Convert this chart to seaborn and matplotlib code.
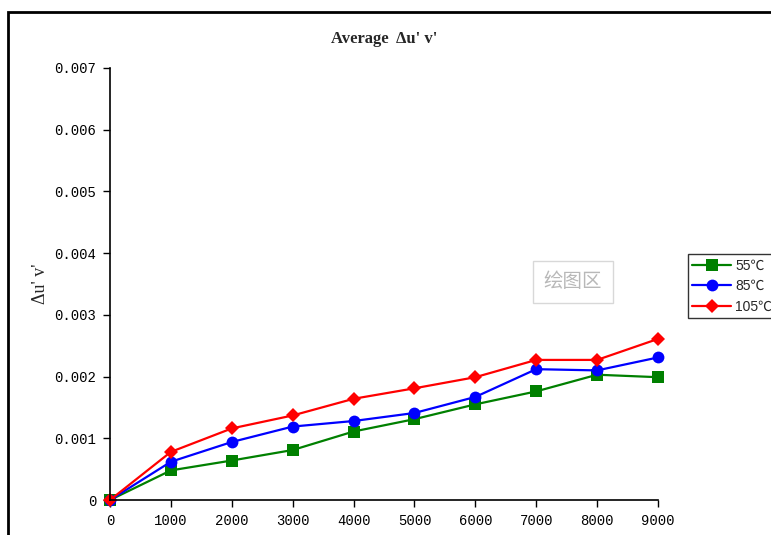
import pandas as pd
import matplotlib.pyplot as plt
import seaborn as sns
from matplotlib.patches import Rectangle

# data
hours = [0, 1000, 2000, 3000, 4000, 5000, 6000, 7000, 8000, 9000]
duv_55 = [0, 0.00048, 0.00064, 0.00081, 0.00111, 0.00131, 0.00155, 0.00176, 0.00203, 0.00199]
duv_85 = [0, 0.00062, 0.00094, 0.00119, 0.00128, 0.00141, 0.00167, 0.00212, 0.00210, 0.00231]
duv_105 = [0, 0.00078, 0.00116, 0.00137, 0.00164, 0.00181, 0.00199, 0.00227, 0.00227, 0.00261]
temps = ['55℃', '85℃', '105℃']
yticks = [0, 0.001, 0.002, 0.003, 0.004, 0.005, 0.006, 0.007]
ytick_labels = ['0', '0.001', '0.002', '0.003', '0.004', '0.005', '0.006', '0.007']

df = pd.DataFrame({
    'hours': hours * 3,
    'duv': duv_55 + duv_85 + duv_105,
    'temp': [t for t in temps for _ in hours],
})

sns.set_style('white')
plt.rcParams['font.family'] = ['Liberation Serif', 'Noto Sans CJK SC', 'DejaVu Sans']

fig = plt.figure(figsize=(7.71, 5.35), dpi=100)
ax = fig.add_axes([0.1427, 0.0654, 0.7107, 0.8075])

palette = {'55℃': '#008000', '85℃': '#0000ff', '105℃': '#ff0000'}
markers = {'55℃': 's', '85℃': 'o', '105℃': 'D'}
sns.lineplot(data=df, x='hours', y='duv', hue='temp', style='temp',
             palette=palette, markers=markers, dashes=False,
             markersize=8.5, markeredgewidth=0, linewidth=1.6, ax=ax)
for ln in ax.lines:
    ln.set_clip_on(False)
    if ln.get_marker() == 'D':
        ln.set_markersize(7)

ax.set_xlim(0, 9000)
ax.set_ylim(0, 0.007)
ax.set_xticks(hours)
ax.set_xticklabels([str(h) for h in hours], fontsize=10, family='Liberation Mono')
ax.set_yticks(yticks)
ax.set_yticklabels(ytick_labels, fontsize=10, family='Liberation Mono')
ax.tick_params(axis='both', direction='out', length=5, width=1, colors='black',
               pad=5, bottom=True, left=True)
ax.spines['top'].set_visible(False)
ax.spines['right'].set_visible(False)
for s in ['left', 'bottom']:
    ax.spines[s].set_color('black')
    ax.spines[s].set_linewidth(1.2)
ax.set_xlabel('')
ax.set_ylabel("Δu' v'", fontsize=13, labelpad=4)
ax.set_title("Average  Δu' v'", fontsize=12, fontweight='bold', pad=18)

leg = ax.legend(loc='center left', bbox_to_anchor=(1.054, 0.495), frameon=True,
                fancybox=False, fontsize=10, handlelength=2.8, borderpad=0.35,
                labelspacing=0.45, handletextpad=0.3, borderaxespad=0)
leg.get_frame().set_edgecolor('black')
leg.get_frame().set_linewidth(1.0)
for t in leg.get_texts():
    t.set_family(['Liberation Sans', 'Noto Sans CJK SC'])

# chart area frame
fig.patches.append(Rectangle((0.011, -0.02), 1.1, 0.998, transform=fig.transFigure,
                             fill=False, edgecolor='black', linewidth=2.0))

# "绘图区" tooltip
fig.text(0.743, 0.473, '绘图区', fontsize=14, color='#b8b8b8',
         family=['Noto Sans CJK SC', 'DejaVu Sans'], ha='center', va='center',
         bbox=dict(boxstyle='square,pad=0.55', facecolor='white', edgecolor='#d8d8d8'))

fig.savefig('out.png', dpi=100)
